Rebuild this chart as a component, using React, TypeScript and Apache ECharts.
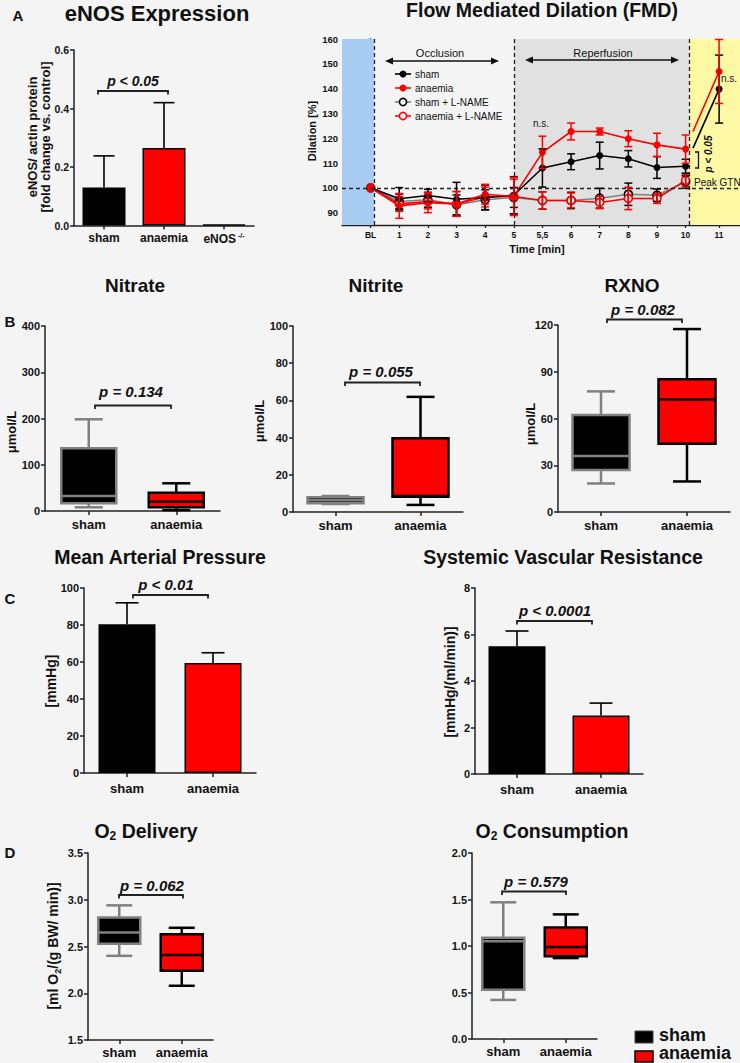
import React, { useEffect, useRef } from 'react';
import * as echarts from 'echarts';

const FONT = '"Liberation Sans", Arial, Helvetica, sans-serif';
const BG = '#f4f4f4';
const RED = '#ff0000';
const GREY = '#808080';
const INK = '#111';

// ---------------- DATA ----------------
// A – eNOS expression (mean, SD)
const enosCategories = ['sham', 'anaemia', 'eNOS-/-'];
const enosMean = [0.13, 0.265, 0.003];
const enosSD = [0.108, 0.155, 0];

// A – Flow mediated dilation
const fmdTimeLabels = ['BL', '1', '2', '3', '4', '5', '5,5', '6', '7', '8', '9', '10', '11'];
const fmdTimePos = [0, 1, 2, 3, 4, 5, 6, 7, 8, 9, 10, 11, 12.17];
const fmdSham = [100, 95.6, 96.9, 95.4, 96.1, 97.0, 108.0, 110.5, 113.0, 111.7, 108.2, 108.7, 139.8];
const fmdShamErr = [0, 4.5, 2.5, 6.8, 5.0, 7.5, 7.7, 3.2, 5.4, 3.3, 4.4, 2.8, 13.7];
const fmdAnaemia = [100, 92.7, 94.0, 93.5, 97.4, 96.5, 114.3, 122.7, 122.7, 119.8, 117.3, 115.6, 146.9];
const fmdAnaemiaErr = [0, 5.0, 4.0, 5.0, 4.0, 7.7, 6.5, 3.4, 1.4, 3.2, 4.7, 5.7, 12.9];
const fmdShamLN = [100, 94.5, 95.2, 93.1, 95.2, 96.1, 94.9, 94.9, 95.8, 97.4, 97.0, 102.3];
const fmdShamLNErr = [0, 3.0, 3.0, 4.0, 4.0, 4.0, 3.5, 3.3, 4.0, 4.5, 2.5, 2.5];
const fmdAnaemiaLN = [100, 93.5, 94.5, 93.5, 96.3, 96.5, 94.9, 94.9, 94.1, 95.7, 95.7, 103.0];
const fmdAnaemiaLNErr = [0, 3.0, 3.0, 5.0, 4.0, 7.0, 3.5, 3.0, 2.5, 4.5, 2.0, 2.5];
const fmdGtnStartSham = [11.26, 116.0];
const fmdGtnStartAnaemia = [11.26, 122.7];
const fmdYTicks = [90, 100, 110, 120, 130, 140, 150, 160];
const fmdPhase = { axisStart: -1, baselineEnd: 0.12, reperfusionStart: 5, gtnStart: 11.12, axisEnd: 12.9 };

// B – box plots [min, Q1, median, Q3, max]  (sham, anaemia)
const groups = ['sham', 'anaemia'];
const nitrateBox = [[8, 16.6, 32.4, 135.6, 198.3], [2, 8, 20.1, 39.6, 59.9]];
const nitriteBox = [[4.3, 4.7, 6.3, 7.9, 8.6], [3.8, 8.2, 8.6, 39.6, 61.9]];
const rxnoBox = [[18.3, 27, 36, 62.3, 77.4], [19.6, 43.8, 72.2, 85.2, 117.4]];

// C – bars (mean, SD)
const mapMean = [80.4, 59.4];
const mapSD = [11.6, 5.6];
const svrMean = [5.5, 2.52];
const svrSD = [0.65, 0.53];

// D – box plots
const o2DeliveryBox = [[2.4, 2.53, 2.65, 2.81, 2.94], [2.08, 2.24, 2.41, 2.63, 2.7]];
const o2ConsumptionBox = [[0.42, 0.53, 1.05, 1.09, 1.47], [0.87, 0.89, 0.99, 1.2, 1.34]];

// ---------------- HELPERS ----------------
const axLine = { color: '#222', width: 1.5 };

const catX = (gridIndex: number, data: string[], fontSize = 13, extraLabel: any = {}) => ({
  type: 'category', gridIndex, data,
  axisLine: { show: true, lineStyle: axLine },
  axisTick: { show: true, alignWithLabel: true, interval: 0, length: 4, lineStyle: axLine },
  axisLabel: { interval: 0, hideOverlap: false, color: INK, fontWeight: 'bold', fontSize, fontFamily: FONT, margin: 7, ...extraLabel },
  splitLine: { show: false },
});

const valY = (gridIndex: number, min: number, max: number, interval: number, fontSize = 11, fmt?: any) => ({
  type: 'value', gridIndex, min, max, interval,
  axisLine: { show: true, lineStyle: axLine },
  axisTick: { show: true, length: 4, lineStyle: axLine },
  axisLabel: { color: INK, fontWeight: 'bold', fontSize, fontFamily: FONT, margin: 5, ...(fmt ? { formatter: fmt } : {}) },
  splitLine: { show: false },
});

const barSeries = (axis: number, means: number[], width: number) => ({
  type: 'bar', xAxisIndex: axis, yAxisIndex: axis, barWidth: width, z: 2, silent: true,
  data: means.map((v, i) => ({
    value: v,
    itemStyle: { color: i === 1 ? RED : '#000', borderColor: '#000', borderWidth: 1.5 },
  })),
});

const barErrSeries = (axis: number, means: number[], errs: number[], capW: number) => ({
  type: 'custom', xAxisIndex: axis, yAxisIndex: axis, z: 3, silent: true,
  encode: { x: 0, y: [1, 2] },
  data: means.map((m, i) => [i, m, m + errs[i]]).filter((d) => d[2] > d[1]),
  renderItem: (_p: any, api: any) => {
    const a = api.coord([api.value(0), api.value(1)]);
    const b = api.coord([api.value(0), api.value(2)]);
    const st = { stroke: '#000', lineWidth: 1.6 };
    return {
      type: 'group',
      children: [
        { type: 'line', shape: { x1: a[0], y1: a[1], x2: b[0], y2: b[1] }, style: st },
        { type: 'line', shape: { x1: b[0] - capW / 2, y1: b[1], x2: b[0] + capW / 2, y2: b[1] }, style: st },
      ],
    };
  },
});

const boxSeries = (axis: number, boxes: number[][], boxW: number, capW: number) => ({
  type: 'custom', xAxisIndex: axis, yAxisIndex: axis, z: 3, silent: true,
  encode: { x: 0, y: [1, 2, 3, 4, 5] },
  data: boxes.map((b, i) => [i, ...b]),
  renderItem: (_p: any, api: any) => {
    const i = api.value(0);
    const fill = i === 0 ? '#000' : RED;
    const stroke = i === 0 ? GREY : '#000';
    const p = (k: number) => api.coord([i, api.value(k)]);
    const cx = p(1)[0];
    const yMin = p(1)[1], yQ1 = p(2)[1], yMed = p(3)[1], yQ3 = p(4)[1], yMax = p(5)[1];
    const ls = { stroke, lineWidth: 2.5 };
    return {
      type: 'group',
      children: [
        { type: 'line', shape: { x1: cx, y1: yQ3, x2: cx, y2: yMax }, style: ls },
        { type: 'line', shape: { x1: cx - capW / 2, y1: yMax, x2: cx + capW / 2, y2: yMax }, style: ls },
        { type: 'line', shape: { x1: cx, y1: yQ1, x2: cx, y2: yMin }, style: ls },
        { type: 'line', shape: { x1: cx - capW / 2, y1: yMin, x2: cx + capW / 2, y2: yMin }, style: ls },
        { type: 'rect', shape: { x: cx - boxW / 2, y: yQ3, width: boxW, height: yQ1 - yQ3 }, style: { fill, stroke, lineWidth: 2.5 } },
        { type: 'line', shape: { x1: cx - boxW / 2, y1: yMed, x2: cx + boxW / 2, y2: yMed }, style: ls },
      ],
    };
  },
});

const fmdErrSeries = (vals: number[], errs: number[], color: string) => ({
  type: 'custom', xAxisIndex: 1, yAxisIndex: 1, z: 6, silent: true,
  encode: { x: 0, y: [1, 2] },
  data: vals.map((v, i) => [fmdTimePos[i], v - errs[i], v + errs[i]]).filter((d) => d[2] > d[1]),
  renderItem: (_p: any, api: any) => {
    const a = api.coord([api.value(0), api.value(1)]);
    const b = api.coord([api.value(0), api.value(2)]);
    const st = { stroke: color, lineWidth: 1.5 };
    const cw = 4;
    return {
      type: 'group',
      children: [
        { type: 'line', shape: { x1: a[0], y1: a[1], x2: b[0], y2: b[1] }, style: st },
        { type: 'line', shape: { x1: a[0] - cw, y1: a[1], x2: a[0] + cw, y2: a[1] }, style: st },
        { type: 'line', shape: { x1: b[0] - cw, y1: b[1], x2: b[0] + cw, y2: b[1] }, style: st },
      ],
    };
  },
});

const fmdLine = (vals: number[], lineColor: string, symColor: string, open: boolean, z: number) => ({
  type: 'line', xAxisIndex: 1, yAxisIndex: 1, z, silent: true,
  data: vals.map((v, i) => [fmdTimePos[i], v]),
  symbol: 'circle', symbolSize: open ? 8 : 7,
  lineStyle: { color: lineColor, width: 1.6 },
  itemStyle: open ? { color: '#eeeeee', borderColor: symColor, borderWidth: 1.6 } : { color: symColor, borderWidth: 0 },
});

const gtnLine = (start: number[], vals: number[], color: string) => ({
  type: 'line', xAxisIndex: 1, yAxisIndex: 1, z: 5, silent: true,
  data: [{ value: start, symbol: 'none' }, { value: [fmdTimePos[12], vals[12]] }],
  symbol: 'circle', symbolSize: 7,
  lineStyle: { color, width: 1.6 },
  itemStyle: { color, borderWidth: 0 },
});

// graphic helpers
const T = (x: number, y: number, text: string, fontSize: number, o: any = {}) => ({
  type: 'text', x, y, z: 20, silent: true,
  rotation: o.rotation || 0,
  style: {
    text, fontSize, fontFamily: FONT,
    fontWeight: o.weight || 'bold',
    fontStyle: o.italic ? 'italic' : 'normal',
    fill: o.fill || INK,
    textAlign: o.align || 'center',
    textVerticalAlign: 'middle',
    verticalAlign: 'middle',
    ...(o.lineHeight ? { lineHeight: o.lineHeight } : {}),
    ...(o.rich ? { rich: o.rich } : {}),
  },
});

const bracket = (x0: number, x1: number, y: number, label: string, ty: number, tx: number, size = 15) => [
  {
    type: 'polyline', z: 20, silent: true,
    shape: { points: [[x0, y + 3.5], [x0, y], [x1, y], [x1, y + 3.5]] },
    style: { stroke: '#222', lineWidth: 1.8, fill: 'none' },
  },
  T(tx, ty, label, size, { italic: true }),
];

const arrow = (x0: number, x1: number, y: number) => [
  { type: 'line', z: 20, silent: true, shape: { x1: x0 + 4, y1: y, x2: x1 - 4, y2: y }, style: { stroke: '#111', lineWidth: 1.3 } },
  { type: 'polygon', z: 20, silent: true, shape: { points: [[x0, y], [x0 + 8, y - 3.5], [x0 + 8, y + 3.5]] }, style: { fill: '#111' } },
  { type: 'polygon', z: 20, silent: true, shape: { points: [[x1, y], [x1 - 8, y - 3.5], [x1 - 8, y + 3.5]] }, style: { fill: '#111' } },
];

const legendItem = (y: number, text: string, lineColor: string, symColor: string, open: boolean) => [
  { type: 'line', z: 20, silent: true, shape: { x1: 395, y1: y, x2: 411, y2: y }, style: { stroke: lineColor, lineWidth: 1.6 } },
  {
    type: 'circle', z: 21, silent: true, shape: { cx: 403, cy: y, r: open ? 3.6 : 3.5 },
    style: open ? { fill: '#f4f4f4', stroke: symColor, lineWidth: 1.6 } : { fill: symColor },
  },
  T(415, y, text, 10, { align: 'left', weight: 'normal' }),
];

const subRich = (size: number, subSize: number, lh: number) => ({
  a: { fontSize: size, fontWeight: 'bold', fontFamily: FONT, fill: INK, color: INK, lineHeight: lh, verticalAlign: 'middle' },
  s: { fontSize: subSize, fontWeight: 'bold', fontFamily: FONT, fill: INK, color: INK, lineHeight: lh, verticalAlign: 'bottom' },
});

export default function App() {
  const ref = useRef<HTMLDivElement>(null);

  useEffect(() => {
    if (!ref.current) return;
    const chart = echarts.init(ref.current, undefined, { renderer: 'svg' });

    const grids = [
      { left: 74, top: 50, width: 180, height: 175.5 },
      { left: 342, top: 39, width: 398, height: 186 },
      { left: 45, top: 326, width: 175, height: 185 },
      { left: 293, top: 326, width: 170, height: 186 },
      { left: 558, top: 325, width: 172, height: 187 },
      { left: 84, top: 588, width: 172, height: 185 },
      { left: 475, top: 588, width: 168, height: 186 },
      { left: 88, top: 853, width: 125, height: 187 },
      { left: 472, top: 853, width: 125, height: 186 },
    ].map((g) => ({ ...g, containLabel: false, outerBoundsMode: 'none', show: false }));

    const fmdLabelFmt = (v: number) => {
      const k = fmdTimePos.findIndex((p) => Math.abs(p - v) < 1e-6);
      return k >= 0 ? fmdTimeLabels[k] : '';
    };

    const xAxis: any[] = [
      catX(0, enosCategories, 12, {
        margin: 6,
        formatter: (v: string) => (v === 'eNOS-/-' ? '{m|eNOS}{s| -/-}' : v),
        rich: {
          m: { fontSize: 12, fontWeight: 'bold', fontFamily: FONT, color: INK, lineHeight: 14, verticalAlign: 'middle' },
          s: { fontSize: 7, fontWeight: 'bold', fontFamily: FONT, color: INK, lineHeight: 14, verticalAlign: 'top' },
        },
      }),
      {
        type: 'value', gridIndex: 1, min: fmdPhase.axisStart, max: fmdPhase.axisEnd,
        axisLine: { show: true, lineStyle: { color: '#222', width: 1.3 } },
        axisTick: { show: true, length: 3, customValues: fmdTimePos, lineStyle: { color: '#222', width: 1.3 } },
        axisLabel: { customValues: fmdTimePos, formatter: fmdLabelFmt, color: INK, fontWeight: 'bold', fontSize: 8.5, fontFamily: FONT, margin: 5 },
        splitLine: { show: false },
      },
      catX(2, groups), catX(3, groups), catX(4, groups),
      catX(5, groups, 13, { margin: 9 }), catX(6, groups, 13, { margin: 9 }),
      catX(7, groups, 13, { margin: 6 }), catX(8, groups, 13, { margin: 6 }),
    ];

    const yAxis: any[] = [
      valY(0, 0, 0.6, 0.2, 10.5, (v: number) => v.toFixed(1)),
      {
        type: 'value', gridIndex: 1, min: 85, max: 160,
        axisLine: { show: true, lineStyle: { color: '#222', width: 1.3 } },
        axisTick: { show: true, length: 3, customValues: fmdYTicks, lineStyle: { color: '#222', width: 1.3 } },
        axisLabel: { customValues: fmdYTicks, color: INK, fontWeight: 'bold', fontSize: 9.5, fontFamily: FONT, margin: 4 },
        splitLine: { show: false },
      },
      valY(2, 0, 400, 100),
      valY(3, 0, 100, 20),
      valY(4, 0, 120, 30),
      valY(5, 0, 100, 20),
      valY(6, 0, 8, 2),
      valY(7, 1.5, 3.5, 0.5, 11, (v: number) => v.toFixed(1)),
      valY(8, 0, 2, 0.5, 11, (v: number) => v.toFixed(1)),
    ];

    const series: any[] = [
      // A eNOS
      barSeries(0, enosMean, 43),
      barErrSeries(0, enosMean, enosSD, 21),
      // FMD phase backgrounds
      {
        type: 'line', xAxisIndex: 1, yAxisIndex: 1, z: 0, silent: true, symbol: 'none',
        data: [[fmdPhase.axisStart, 100]], lineStyle: { opacity: 0 },
        markArea: {
          silent: true,
          data: [
            [{ xAxis: fmdPhase.axisStart, itemStyle: { color: '#a9ccf3' } }, { xAxis: fmdPhase.baselineEnd }],
            [{ xAxis: fmdPhase.reperfusionStart, itemStyle: { color: '#e1e1e1' } }, { xAxis: fmdPhase.gtnStart }],
            [{ xAxis: fmdPhase.gtnStart, itemStyle: { color: '#fcf8a4' } }, { xAxis: fmdPhase.axisEnd }],
          ],
        },
      },
      {
        type: 'line', xAxisIndex: 1, yAxisIndex: 1, z: 1, silent: true, symbol: 'none',
        data: [[fmdPhase.axisStart, 100]], lineStyle: { opacity: 0 },
        markLine: {
          silent: true, symbol: ['none', 'none'], label: { show: false },
          lineStyle: { color: '#222', width: 1.3, type: [4, 3] },
          data: [{ xAxis: fmdPhase.baselineEnd }, { xAxis: fmdPhase.reperfusionStart }, { xAxis: fmdPhase.gtnStart }, { yAxis: 100 }],
        },
      },
      fmdLine(fmdShamLN, GREY, '#000', true, 3),
      fmdLine(fmdAnaemiaLN, RED, RED, true, 3),
      fmdLine(fmdSham.slice(0, 12), '#000', '#000', false, 4),
      fmdLine(fmdAnaemia.slice(0, 12), RED, RED, false, 4),
      gtnLine(fmdGtnStartSham, fmdSham, '#000'),
      gtnLine(fmdGtnStartAnaemia, fmdAnaemia, RED),
      fmdErrSeries(fmdShamLN, fmdShamLNErr, '#000'),
      fmdErrSeries(fmdAnaemiaLN, fmdAnaemiaLNErr, RED),
      fmdErrSeries(fmdSham, fmdShamErr, '#000'),
      fmdErrSeries(fmdAnaemia, fmdAnaemiaErr, RED),
      // B
      boxSeries(2, nitrateBox, 55, 28),
      boxSeries(3, nitriteBox, 56, 28),
      boxSeries(4, rxnoBox, 57, 28),
      // C
      barSeries(5, mapMean, 57),
      barErrSeries(5, mapMean, mapSD, 23),
      barSeries(6, svrMean, 57),
      barErrSeries(6, svrMean, svrSD, 23),
      // D
      boxSeries(7, o2DeliveryBox, 42, 26),
      boxSeries(8, o2ConsumptionBox, 42, 26),
    ];

    const R = Math.PI / 2;
    const graphic: any[] = [
      // panel letters
      T(18, 15, 'A', 15), T(10, 321, 'B', 15), T(10, 598, 'C', 15), T(10, 852, 'D', 15),
      // titles
      T(157, 13, 'eNOS Expression', 22),
      T(542, 10, 'Flow Mediated Dilation (FMD)', 19.5),
      T(135, 285, 'Nitrate', 19), T(376, 285, 'Nitrite', 19), T(632, 285, 'RXNO', 19),
      T(160, 557, 'Mean Arterial Pressure', 19.5), T(563, 557, 'Systemic Vascular Resistance', 19.5),
      T(146, 831, '{a|O}{s|2}{a| Delivery}', 19.5, { rich: subRich(19.5, 12, 22) }),
      T(552, 831, '{a|O}{s|2}{a| Consumption}', 19.5, { rich: subRich(19.5, 12, 22) }),
      // y-axis names
      T(39, 137, 'eNOS/ actin protein\n[fold change vs. control]', 13, { rotation: R, lineHeight: 13 }),
      T(312, 131, 'Dilation [%]', 11, { rotation: R }),
      T(11, 432, 'μmol/L', 13, { rotation: R }),
      T(259, 421, 'μmol/L', 13, { rotation: R }),
      T(530, 424, 'μmol/L', 13, { rotation: R }),
      T(51, 681, '[mmHg]', 14, { rotation: R }),
      T(450, 682, '[mmHg/(ml/min)]', 14, { rotation: R }),
      T(53, 946, '{a|[ml O}{s|2}{a|/(g BW/ min)]}', 14, { rotation: R, rich: subRich(14, 9, 18) }),
      // FMD annotations
      T(537, 249, 'Time [min]', 11),
      T(440, 53, 'Occlusion', 11, { weight: 'normal' }),
      T(603, 53, 'Reperfusion', 11, { weight: 'normal' }),
      ...arrow(385, 499, 61),
      ...arrow(525, 679, 60),
      ...legendItem(74, 'sham', '#000', '#000', false),
      ...legendItem(88, 'anaemia', RED, RED, false),
      ...legendItem(102, 'sham + L-NAME', GREY, '#000', true),
      ...legendItem(116, 'anaemia + L-NAME', RED, RED, true),
      T(541, 123, 'n.s.', 10, { weight: 'normal' }),
      T(721, 78, 'n.s.', 10, { weight: 'normal', align: 'left' }),
      T(694, 182, 'Peak GTN', 10, { weight: 'normal', align: 'left' }),
      {
        type: 'polyline', z: 20, silent: true,
        shape: { points: [[695, 152], [698.5, 152], [698.5, 168], [695, 168]] },
        style: { stroke: '#111', lineWidth: 1.3, fill: 'none' },
      },
      T(708, 154, 'p < 0.05', 10, { rotation: R, italic: true }),
      // significance brackets
      ...bracket(98, 168, 91, 'p < 0.05', 81, 133, 14),
      ...bracket(95, 171, 405.5, 'p = 0.134', 391.5, 131),
      ...bracket(345, 420, 382.5, 'p = 0.055', 371.5, 381),
      ...bracket(607, 682, 319.5, 'p = 0.082', 309, 643),
      ...bracket(133, 208, 595, 'p < 0.01', 584, 166),
      ...bracket(517, 592, 621, 'p < 0.0001', 610, 555),
      ...bracket(119, 183, 895, 'p = 0.062', 885, 152),
      ...bracket(502, 566, 891.5, 'p = 0.579', 881, 536),
      // bottom legend
      { type: 'rect', z: 20, silent: true, shape: { x: 635, y: 1031, width: 18, height: 12 }, style: { fill: '#000', stroke: '#444', lineWidth: 1 } },
      T(659, 1035, 'sham', 18, { align: 'left' }),
      { type: 'rect', z: 20, silent: true, shape: { x: 635, y: 1051, width: 18, height: 11 }, style: { fill: RED, stroke: '#000', lineWidth: 1.5 } },
      T(659, 1053, 'anaemia', 18, { align: 'left' }),
    ];

    chart.setOption({
      animation: false,
      backgroundColor: BG,
      textStyle: { fontFamily: FONT },
      grid: grids,
      xAxis,
      yAxis,
      series,
      graphic,
    });

    return () => chart.dispose();
  }, []);

  return (
    <div
      ref={ref}
      style={{ position: 'absolute', left: 0, top: 0, width: 740, height: 1063 }}
    />
  );
}
